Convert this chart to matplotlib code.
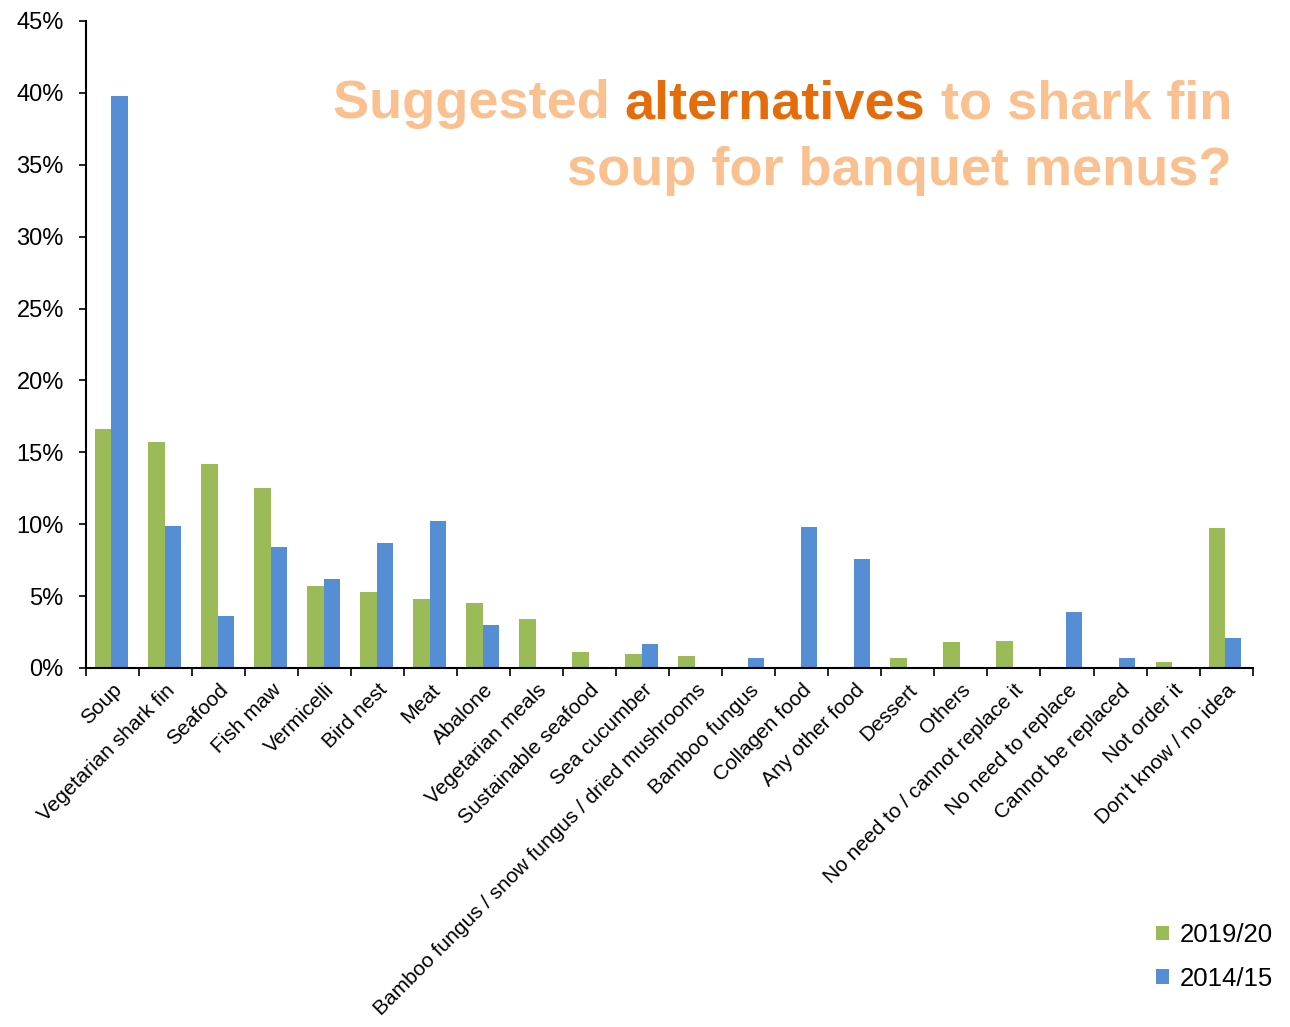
import numpy as np
from matplotlib import pyplot as plt
from matplotlib.ticker import FixedLocator, FuncFormatter, NullFormatter

categories = ['Soup', 'Vegetarian shark fin', 'Seafood', 'Fish maw', 'Vermicelli',
              'Bird nest', 'Meat', 'Abalone', 'Vegetarian meals', 'Sustainable seafood',
              'Sea cucumber', 'Bamboo fungus / snow fungus / dried mushrooms',
              'Bamboo fungus', 'Collagen food', 'Any other food', 'Dessert', 'Others',
              'No need to / cannot replace it', 'No need to replace', 'Cannot be replaced',
              'Not order it', "Don't know / no idea"]
y2019 = [16.6, 15.7, 14.2, 12.5, 5.7, 5.3, 4.8, 4.5, 3.4, 1.1,
         1.0, 0.8, 0.0, 0.0, 0.0, 0.7, 1.8, 1.9, 0.0, 0.0, 0.4, 9.7]
y2014 = [39.8, 9.9, 3.6, 8.4, 6.2, 8.7, 10.2, 3.0, 0.0, 0.0,
         1.7, 0.0, 0.7, 9.8, 7.6, 0.0, 0.0, 0.0, 3.9, 0.7, 0.0, 2.1]
series = ['2019/20', '2014/15']

green = '#9BBB59'
blue = '#558ED5'
light = '#FAC090'
dark = '#E46C0A'

plt.rcParams['font.family'] = ['Liberation Sans', 'DejaVu Sans']

fig = plt.figure(figsize=(12.9, 10.27), dpi=100)
ax = fig.add_axes([0.0667, 0.3496, 0.9043, 0.6300])

x = np.arange(len(categories))
w = 0.31
ax.bar(x - w / 2 - 0.02, y2019, width=w, color=green, label=series[0])
ax.bar(x + w / 2 - 0.02, y2014, width=w, color=blue, label=series[1])

ax.set_xlim(-0.5, len(categories) - 0.5)
ax.set_ylim(0, 45)
ax.set_yticks(np.arange(0, 46, 5))
ax.yaxis.set_major_formatter(FuncFormatter(lambda v, p: '%d%%' % v))
ax.tick_params(axis='y', labelsize=17, length=5, width=1.2, direction='out', pad=11)

# category boundaries carry the ticks, labels sit at the centres
ax.xaxis.set_major_locator(FixedLocator(np.arange(-0.5, len(categories), 1)))
ax.xaxis.set_major_formatter(NullFormatter())
ax.xaxis.set_minor_locator(FixedLocator(x))
ax.set_xticklabels(categories, minor=True, rotation=45, ha='right',
                   rotation_mode='anchor', fontsize=15)
ax.tick_params(axis='x', which='major', length=6, width=1.2, direction='out')
ax.tick_params(axis='x', which='minor', length=0, pad=9)

for s in ['top', 'right']:
    ax.spines[s].set_visible(False)
for s in ['left', 'bottom']:
    ax.spines[s].set_linewidth(1.5)

fig.legend(loc='lower right', bbox_to_anchor=(1.005, 0.013), frameon=False,
           fontsize=18.5, handlelength=0.5, handleheight=0.5, handletextpad=0.45,
           labelspacing=0.75)

# title, right aligned, with one highlighted word
tfont = dict(family=['Liberation Sans', 'DejaVu Sans'], weight='bold', fontsize=39)
t3 = fig.text(0.955, 0.874, ' to shark fin', color=light, ha='right', va='bottom', **tfont)
t2 = ax.annotate('alternatives', xy=(0, 0), xycoords=t3, ha='right', va='bottom',
                 color=dark, annotation_clip=False, **tfont)
ax.annotate('Suggested ', xy=(0, 0), xycoords=t2, ha='right', va='bottom',
            color=light, annotation_clip=False, **tfont)
fig.text(0.955, 0.809, 'soup for banquet menus?', color=light, ha='right',
         va='bottom', **tfont)

fig.savefig('out.png', dpi=100)
